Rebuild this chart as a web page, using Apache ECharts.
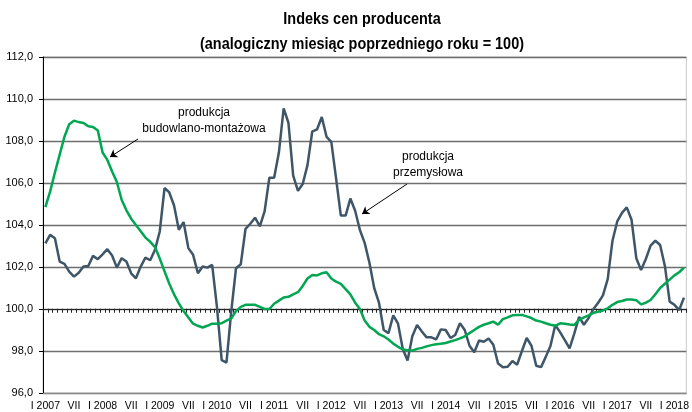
<!DOCTYPE html>
<html>
<head>
<meta charset="utf-8">
<script src="https://cdn.jsdelivr.net/npm/echarts@6/dist/echarts.min.js"></script>
<style>
html,body{margin:0;padding:0;background:#fff;}
#c{width:692px;height:412px;}
</style>
</head>
<body>
<div id="c"></div>
<script>
// Months Jan 2007 .. Mar 2018
const startYear = 2007;
const monthCount = 135;
const tickLabels = ['I 2007','VII','I 2008','VII','I 2009','VII','I 2010','VII','I 2011','VII','I 2012','VII',
  'I 2013','VII','I 2014','VII','I 2015','VII','I 2016','VII','I 2017','VII','I 2018'];
const yTickLabels = ['96,0','98,0','100,0','102,0','104,0','106,0','108,0','110,0','112,0'];

// produkcja przemysłowa
const przemyslowa = [
  103.13,103.53,103.37,102.26,102.15,101.78,101.54,101.73,102.02,102.05,102.53,102.37,
  102.6,102.85,102.55,101.97,102.42,102.26,101.7,101.46,102.02,102.45,102.32,102.82,
  103.69,105.76,105.55,104.93,103.77,104.14,102.9,102.58,101.7,102.02,101.97,102.1,
  100.1,97.57,97.45,99.87,101.94,102.13,103.82,104.06,104.35,103.94,104.65,106.25,
  106.25,107.45,109.55,108.87,106.35,105.63,105.95,106.85,108.45,108.55,109.14,108.2,
  107.96,106.22,104.45,104.45,105.26,104.68,103.76,103.15,102.2,101.0,100.3,99.0,
  98.85,99.7,99.3,98.1,97.55,98.7,99.24,98.93,98.65,98.65,98.55,99.03,
  99.0,98.62,98.76,99.32,99.0,98.25,97.94,98.5,98.44,98.6,98.3,97.4,
  97.23,97.25,97.52,97.35,98.0,98.62,98.25,97.3,97.23,97.72,98.25,99.24,
  98.9,98.52,98.13,98.84,99.63,99.25,99.57,100.0,100.3,100.65,101.42,103.25,
  104.17,104.58,104.84,104.25,102.42,101.86,102.38,103.02,103.25,103.05,102.05,100.35,
  100.2,99.95,100.54
];
// produkcja budowlano-montażowa
const budowlana = [
  104.85,105.6,106.5,107.35,108.2,108.8,108.97,108.9,108.86,108.7,108.67,108.5,
  107.45,107.1,106.55,106.05,105.2,104.7,104.3,104.0,103.7,103.4,103.2,102.95,
  102.4,101.8,101.2,100.7,100.27,99.9,99.6,99.3,99.2,99.12,99.2,99.3,
  99.3,99.32,99.45,99.55,99.9,100.1,100.2,100.2,100.2,100.1,100.0,100.0,
  100.25,100.4,100.55,100.58,100.7,100.8,101.1,101.45,101.62,101.6,101.7,101.75,
  101.45,101.3,101.2,100.95,100.7,100.3,100.0,99.45,99.15,99.0,98.8,98.7,
  98.55,98.35,98.2,98.08,98.03,98.02,98.1,98.15,98.22,98.28,98.32,98.35,
  98.38,98.45,98.52,98.6,98.7,98.85,99.0,99.15,99.25,99.32,99.4,99.25,
  99.52,99.6,99.7,99.72,99.72,99.65,99.57,99.45,99.4,99.32,99.25,99.2,
  99.32,99.3,99.26,99.24,99.48,99.6,99.7,99.82,99.87,99.93,100.03,100.2,
  100.33,100.38,100.45,100.45,100.42,100.22,100.3,100.43,100.7,101.0,101.2,101.4,
  101.6,101.75,101.97
];

const categories = [];
for (let i = 0; i < monthCount; i++) {
  const y = startYear + Math.floor(i / 12);
  const m = (i % 12) + 1;
  categories.push(y + '-' + (m < 10 ? '0' : '') + m);
}

const FONTW = 'Liberation Sans, Arial, sans-serif';
const GREY = '#3e5668';
const GREEN = '#00a651';

const chart = echarts.init(document.getElementById('c'), null, {renderer: 'canvas'});
chart.setOption({
  animation: false,
  backgroundColor: '#fff',
  grid: {left: 43, right: 1, top: 57, bottom: 18, containLabel: false, show: true, borderColor: '#c8c8c8', borderWidth: 1},
  xAxis: [{
    type: 'category',
    data: categories,
    boundaryGap: true,
    position: 'bottom',
    axisLine: {show: true, lineStyle: {color: '#888', width: 1}},
    axisTick: {show: false},
    axisLabel: {
      interval: 0,
      margin: 8,
      fontFamily: FONTW, fontSize: 10.5, color: '#000',
      formatter: function (v, idx) { return idx % 6 === 0 ? (tickLabels[idx / 6] || '') : ''; }
    },
    splitLine: {show: false}
  }, {
    type: 'category',
    data: categories,
    boundaryGap: true,
    position: 'bottom',
    offset: -84.25,
    axisLine: {show: true, onZero: false, lineStyle: {color: '#222', width: 1.2}},
    axisTick: {show: true, interval: 0, length: 4, inside: false, lineStyle: {color: '#222', width: 1}},
    axisLabel: {show: false},
    splitLine: {show: false}
  }],
  yAxis: {
    type: 'value',
    min: 96, max: 112, interval: 2,
    axisLine: {show: true, lineStyle: {color: '#000', width: 1}},
    axisTick: {show: true, length: 4, lineStyle: {color: '#000'}},
    axisLabel: {
      margin: 10, fontFamily: FONTW, fontSize: 11, color: '#000',
      formatter: function (v) { return yTickLabels[Math.round((v - 96) / 2)]; }
    },
    splitLine: {show: true, lineStyle: {color: '#6e6e6e', width: 1.4}}
  },
  series: [{
    name: 'produkcja przemysłowa',
    type: 'line',
    xAxisIndex: 0,
    data: przemyslowa,
    showSymbol: false,
    lineStyle: {color: GREY, width: 2.5},
    z: 3
  }, {
    name: 'produkcja budowlano-montażowa',
    type: 'line',
    xAxisIndex: 0,
    data: budowlana,
    showSymbol: false,
    lineStyle: {color: GREEN, width: 2.5},
    z: 4,
    markLine: {
      silent: true,
      symbol: ['none', 'arrow'],
      symbolSize: 7,
      label: {show: false},
      lineStyle: {color: '#000', width: 1, type: 'solid'},
      data: [
        [{x: 138, y: 139}, {x: 110, y: 157}],
        [{x: 407, y: 184}, {x: 362, y: 214}]
      ]
    }
  }],
  graphic: [
    {type: 'text', x: 362, y: 19, scaleX: 0.85, style: {text: 'Indeks cen producenta', x: 0, y: 0, align: 'center', verticalAlign: 'middle', font: 'bold 17px ' + FONTW, fill: '#000'}},
    {type: 'text', x: 362, y: 44, scaleX: 0.85, style: {text: '(analogiczny miesiąc poprzedniego roku = 100)', x: 0, y: 0, align: 'center', verticalAlign: 'middle', font: 'bold 17px ' + FONTW, fill: '#000'}},
    {type: 'text', x: 204, y: 113, style: {text: 'produkcja', align: 'center', verticalAlign: 'middle', font: '12px ' + FONTW, fill: '#000'}},
    {type: 'text', x: 204, y: 129, style: {text: 'budowlano-montażowa', align: 'center', verticalAlign: 'middle', font: '12px ' + FONTW, fill: '#000'}},
    {type: 'text', x: 428, y: 157, style: {text: 'produkcja', align: 'center', verticalAlign: 'middle', font: '12px ' + FONTW, fill: '#000'}},
    {type: 'text', x: 428, y: 173, style: {text: 'przemysłowa', align: 'center', verticalAlign: 'middle', font: '12px ' + FONTW, fill: '#000'}}
  ]
});
</script>
</body>
</html>
